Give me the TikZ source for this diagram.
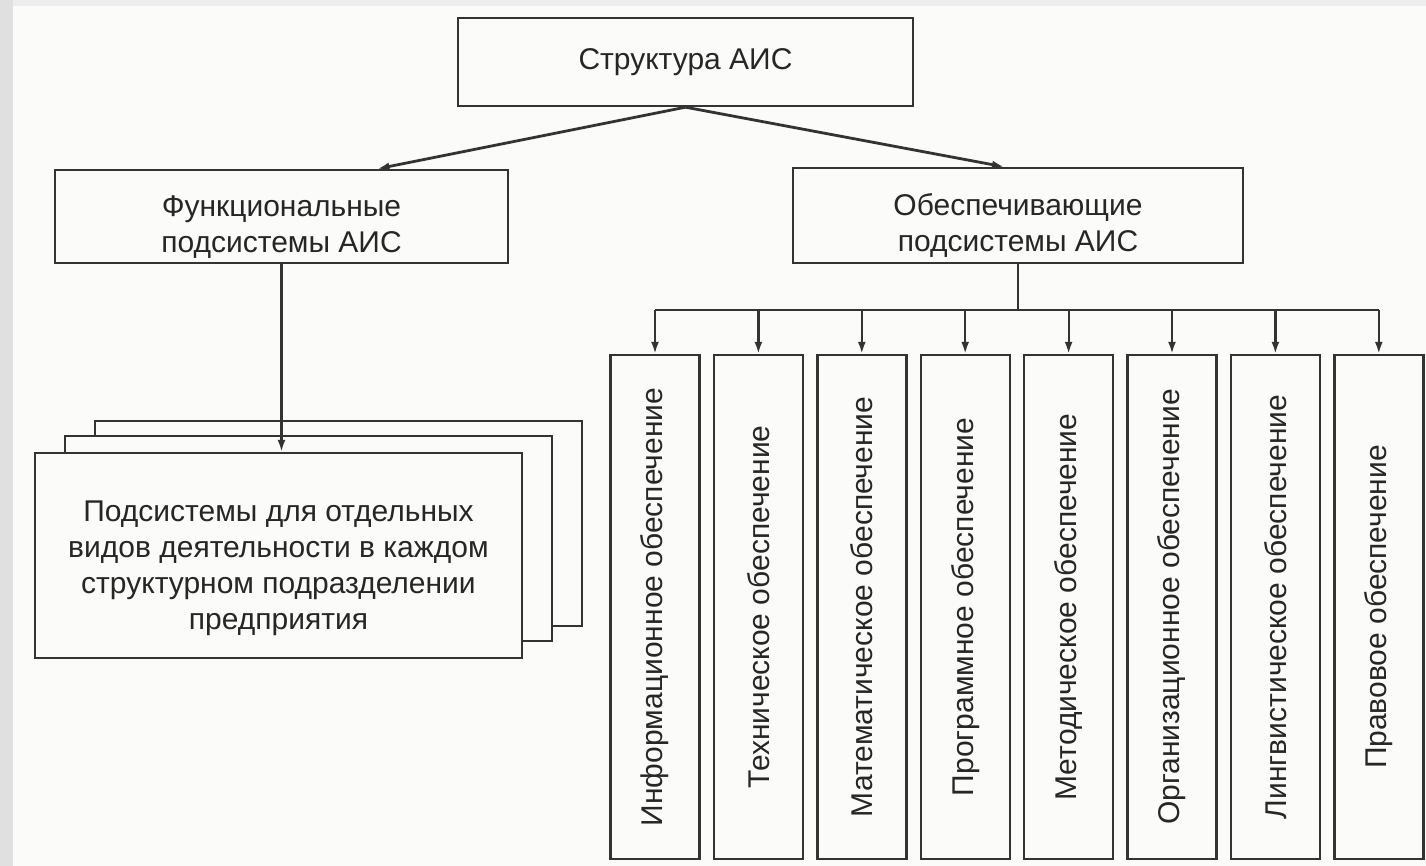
\documentclass[tikz,border=0pt]{standalone}
\usepackage{fontspec}
\setmainfont{Liberation Sans}
\usetikzlibrary{calc, arrows.meta}
\definecolor{paper}{RGB}{251,251,250}

\begin{document}
\begin{tikzpicture}[x=0.5pt, y=-0.5pt,
	box/.style={draw=black!80, line width=1.2pt, fill=paper, inner sep=0pt, align=center, text=black!85, font=\fontsize{15}{18}\selectfont},
	link/.style={draw=black!80, line width=1.1pt},
	tip/.style={-{Latex[length=6pt, width=4pt]}}]
	% background
	\fill [paper] (0, 0) rectangle (1426, 866);
	\fill [black!12] (0, 0) rectangle (13, 866);
	\fill [black!7] (13, 0) rectangle (1426, 6);
	\useasboundingbox (0, 0) rectangle (1426, 866);

	\node (root) at (685.5, 62) [box, minimum width=227.5pt, minimum height=44pt] {Структура АИС};
	\node (func) at (281.5, 216.5) [box, minimum width=226.5pt, minimum height=46.5pt] {\rule{0pt}{21pt}Функциональные\\подсистемы АИС};
	\node (supp) at (1018, 215.5) [box, minimum width=225pt, minimum height=47.5pt] {\rule{0pt}{21pt}Обеспечивающие\\подсистемы АИС};

	\draw [link, tip, line width=1.4pt] (root.south) -- ($(func.north) + (96, 0)$);
	\draw [link, tip, line width=1.4pt] (root.south) -- ($(supp.north) + (-14, 0)$);

	% stack of subsystems
	\coordinate (stack) at (278.5, 555.5);
	\node (sub3) at ($(stack) + (60, -32)$) [box, minimum width=243.5pt, minimum height=102.5pt] {};
	\node (sub2) at ($(stack) + (30, -17)$) [box, minimum width=243.5pt, minimum height=102.5pt] {};
	\node (sub1) at (stack) [box, minimum width=243.5pt, minimum height=102.5pt] {\rule{0pt}{23pt}Подсистемы для отдельных\\видов деятельности в каждом\\структурном подразделении\\предприятия};

	\draw [link, tip] (func.south) -- (func.south |- sub1.north);

	% supporting subsystems
	\coordinate (bus) at (1018, 310);
	\draw [link] (supp.south) -- (bus);
	\foreach \name [count=\i from 0] in {Информационное, Техническое, Математическое, Программное, Методическое, Организационное, Лингвистическое, Правовое} {
		\node (s\i) at (655 + 103.4*\i, 607) [box, minimum width=44.5pt, minimum height=252pt] {};
		\node (t\i) at (s\i) [rotate=90, text=black!85, font=\fontsize{15}{18}\selectfont] {\name\ обеспечение};
		\draw [link, tip] (s\i.north |- bus) -- (s\i.north);
	}
	\draw [link] (s0.north |- bus) -- (s7.north |- bus);
\end{tikzpicture}
\end{document}
